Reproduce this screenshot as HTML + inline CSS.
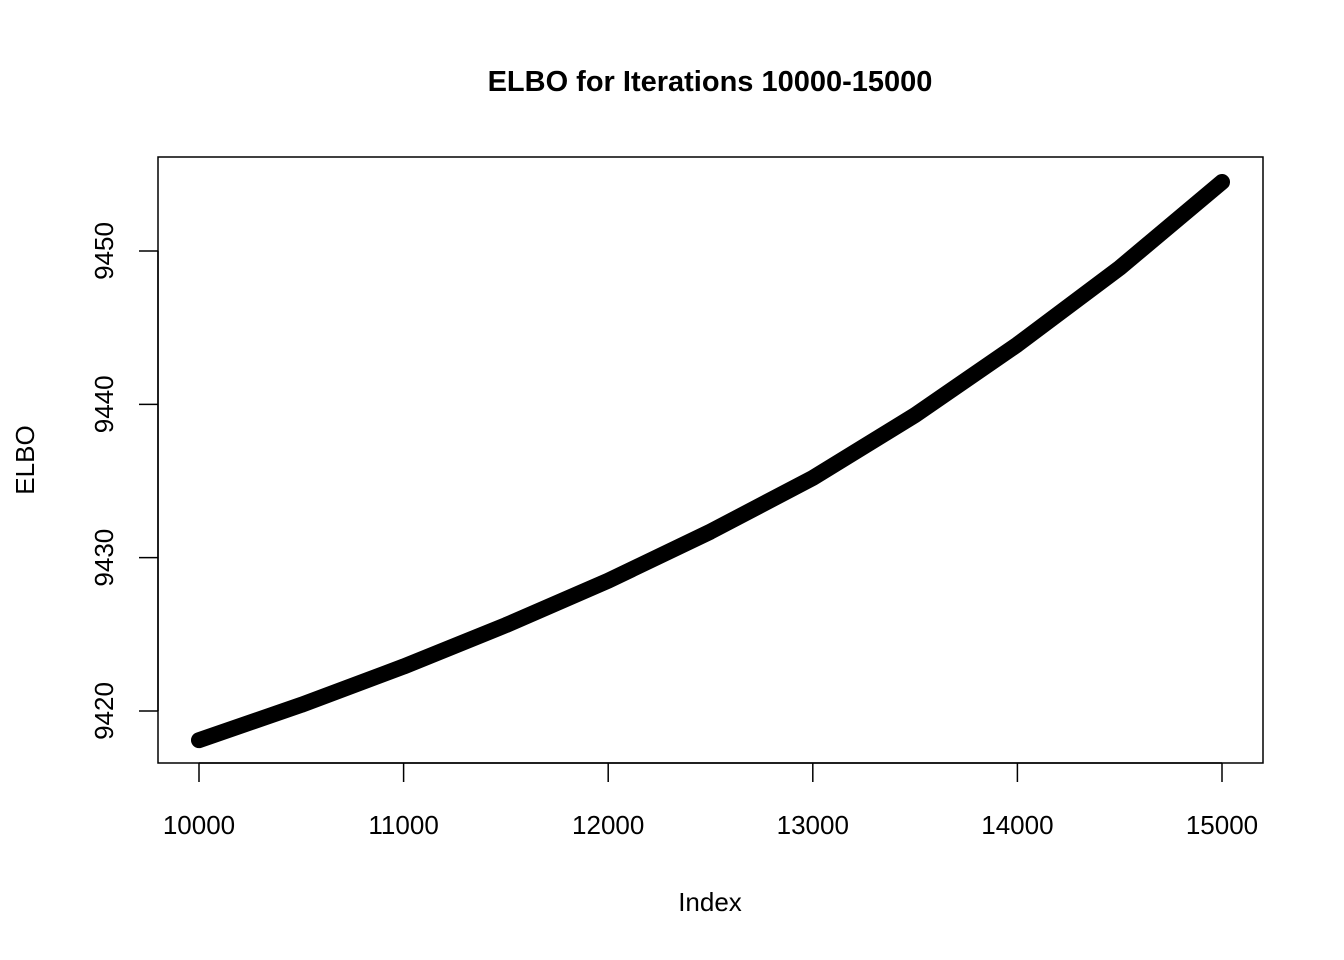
<!DOCTYPE html>
<html><head><meta charset="utf-8"><style>
body{margin:0;background:#fff;}
svg{display:block;font-family:"Liberation Sans",Arial,sans-serif;}
</style></head><body>
<svg width="1344" height="960">
<text x="710" y="91" text-anchor="middle" font-size="29" font-weight="bold">ELBO for Iterations 10000-15000</text>
<rect x="158" y="157" width="1105" height="606" fill="none" stroke="#000" stroke-width="1.5"/>
<g id="xaxis"></g>
<g id="yaxis"></g>
<text x="710" y="911" text-anchor="middle" font-size="26">Index</text>
<text transform="translate(34,460) rotate(-90)" text-anchor="middle" font-size="26">ELBO</text>
<polyline id="series" fill="none" stroke="#000" stroke-width="16" stroke-linecap="round" stroke-linejoin="round"/>
</svg>
<script>
const xs=[10000,10500,11000,11500,12000,12500,13000,13500,14000,14500,15000];
const ys=[9418.1,9420.4,9422.9,9425.6,9428.5,9431.7,9435.2,9439.3,9443.9,9448.9,9454.5];
const xTicks=[10000,11000,12000,13000,14000,15000];
const yTicks=[9420,9430,9440,9450];
const X=v=>199+(v-10000)*(1222-199)/5000;
const Y=v=>711-(v-9420)*(711-251)/30;
const NS="http://www.w3.org/2000/svg";
const xa=document.getElementById('xaxis'),ya=document.getElementById('yaxis');
function el(t,a,p){const e=document.createElementNS(NS,t);for(const k in a)e.setAttribute(k,a[k]);p.appendChild(e);return e;}
el('line',{x1:X(xTicks[0]),x2:X(xTicks[xTicks.length-1]),y1:763,y2:763,stroke:'#000','stroke-width':1.5},xa);
xTicks.forEach(t=>{
 const l=el('line',{x1:X(t),x2:X(t),y1:763,y2:782,stroke:'#000','stroke-width':1.5},xa);
 
 
 const s=el('text',{x:X(t),y:834,'text-anchor':'middle','font-size':26},xa);
 
 
 s.textContent=t;
});
el('line',{x1:158,x2:158,y1:Y(yTicks[0]),y2:Y(yTicks[yTicks.length-1]),stroke:'#000','stroke-width':1.5},ya);
yTicks.forEach(t=>{
 const l=el('line',{x1:139,x2:158,y1:Y(t),y2:Y(t),stroke:'#000','stroke-width':1.5},ya);
 
 
 const s=el('text',{transform:`translate(113,${Y(t)}) rotate(-90)`,'text-anchor':'middle','font-size':26},ya);
 
 
 s.textContent=t;
});
document.getElementById('series').setAttribute('points',xs.map((x,i)=>X(x)+','+Y(ys[i])).join(' '));
</script>
</body></html>
